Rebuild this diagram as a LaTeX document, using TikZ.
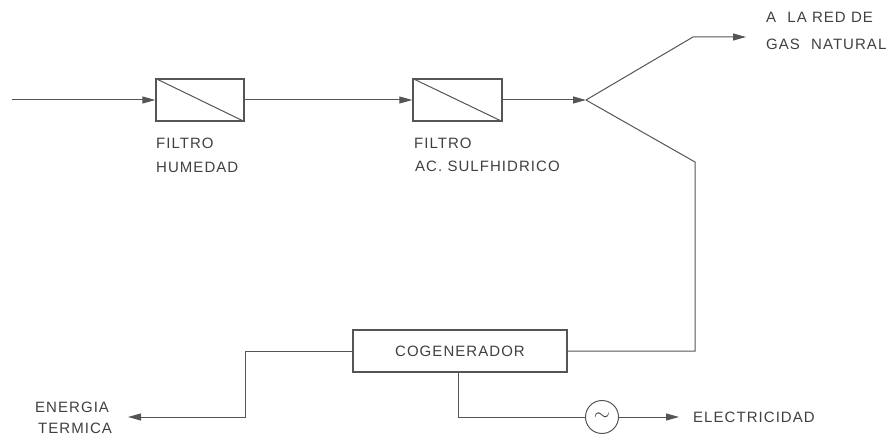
\documentclass[tikz,border=0pt]{standalone}
\usepackage{fontspec}
\usetikzlibrary{arrows.meta}
\newfontfamily\lblfont[LetterSpace=7]{Liberation Sans}
\definecolor{ink}{HTML}{555555}
\definecolor{txt}{HTML}{404040}
\begin{document}
\begin{tikzpicture}[x=1pt,y=-1pt,
  line/.style={draw=ink, line width=1pt},
  flow/.style={line, -{Triangle[length=13pt,width=7pt]}},
  filterbox/.style={draw=ink, line width=1.4pt, minimum width=88pt, minimum height=42pt, inner sep=0pt},
  cogbox/.style={draw=ink, line width=1.4pt, minimum width=214pt, minimum height=42pt, inner sep=0pt, font=\lblfont\fontsize{15pt}{17pt}\selectfont, text=txt},
  gen/.style={circle, draw=ink, line width=1pt, minimum size=33pt, inner sep=0pt, font=\fontsize{20pt}{20pt}\selectfont, text=txt},
  lbl/.style={anchor=west, inner sep=0pt, font=\lblfont\fontsize{15pt}{17pt}\selectfont, text=txt}]
\useasboundingbox (0,0) rectangle (895,436);
% nodes
\node[filterbox] (f1) at (200,100) {};
\node[filterbox, minimum width=89pt] (f2) at (457.5,100) {};
\node[cogbox] (cog) at (460,351) {COGENERADOR};
\node[gen] (g) at (602,417) {$\sim$};
% diagonals inside filters
\draw[line] (f1.north west) -- (f1.south east);
\draw[line] (f2.north west) -- (f2.south east);
% coordinates
\coordinate (in) at (12,100);
\coordinate (split) at (586,100);
\coordinate (upk) at (693,37);
\coordinate (gasend) at (746,37);
\coordinate (lowk) at (695,162);
\coordinate (corner) at (695,351);
\coordinate (hk) at (245,351);
\coordinate (hl) at (245,417);
\coordinate (heatend) at (128,417);
\coordinate (ek) at (458,417);
\coordinate (elecend) at (679,417);
% labels
\node[lbl] (l1) at (156,143) {FILTRO};
\node[lbl] (l2) at (156,167) {HUMEDAD};
\node[lbl] (l3) at (414,143) {FILTRO};
\node[lbl] (l4) at (415,166) {AC. SULFHIDRICO};
\node[lbl] (l5) at (766,17) {A\hspace{6pt} LA RED DE};
\node[lbl] (l6) at (766,44) {GAS\hspace{6pt} NATURAL};
\node[lbl] (l7) at (35,407) {ENERGIA};
\node[lbl] (l8) at (38,428) {TERMICA};
\node[lbl] (l9) at (693,417) {ELECTRICIDAD};
% connectors
\draw[flow] (in) -- (f1.west);
\draw[flow] (f1.east) -- (f2.west);
\draw[flow] (f2.east) -- (split);
\draw[flow] (split) -- (upk) -- (gasend);
\draw[line] (split) -- (lowk) -- (corner) -- (cog.east);
\draw[flow] (cog.west) -- (hk) -- (hl) -- (heatend);
\draw[line] (cog.south -| ek) -- (ek) -- (g.west);
\draw[flow] (g.east) -- (elecend);
\end{tikzpicture}
\end{document}
